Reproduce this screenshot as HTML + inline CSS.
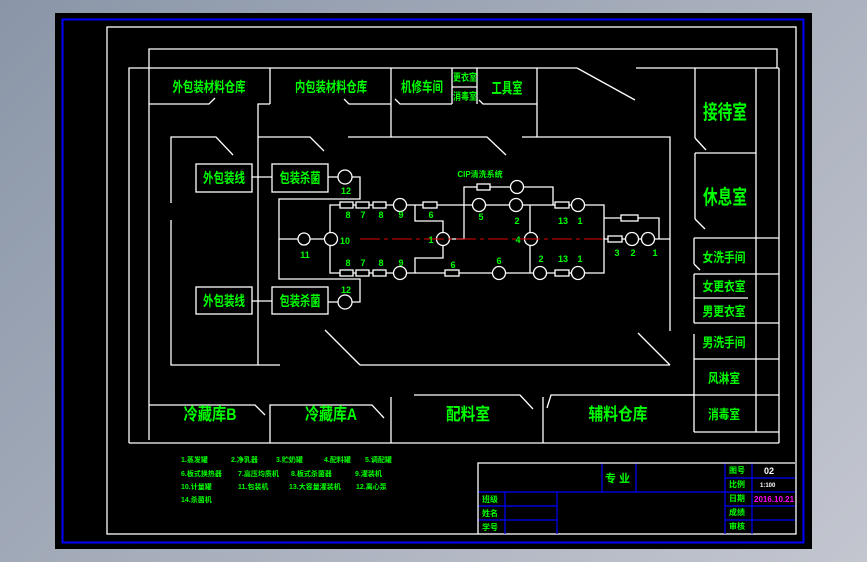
<!DOCTYPE html>
<html><head><meta charset="utf-8"><style>
html,body{margin:0;padding:0;width:867px;height:562px;overflow:hidden;background:linear-gradient(135deg,#8a96a8,#c3c6cf);}
svg{position:absolute;left:0;top:0}
text{font-family:"Liberation Sans","Noto Sans CJK SC",sans-serif;fill:#00ff00;font-weight:bold}
</style></head><body>
<svg width="867" height="562" viewBox="0 0 867 562">
<rect x="55" y="13" width="757" height="536" fill="#000"/>
<rect x="62.5" y="19.5" width="741" height="523" fill="none" stroke="#0000ff" stroke-width="2"/>
<g stroke="#fff" stroke-width="1.3" fill="none">
<rect x="107" y="27" width="689" height="507"/>
<polyline points="149,440 149,49 777,49 777,68"/>
<polyline points="129,443 129,68 577,68"/>
<line x1="577" y1="68" x2="635" y2="100"/>
<line x1="636" y1="68" x2="779" y2="68"/>
<line x1="779" y1="68" x2="779" y2="443"/>
<line x1="129" y1="443" x2="779" y2="443"/>
<line x1="270" y1="68" x2="270" y2="104"/><line x1="391" y1="68" x2="391" y2="137"/>
<line x1="452" y1="68" x2="452" y2="104"/><line x1="477" y1="68" x2="477" y2="104"/>
<line x1="537" y1="68" x2="537" y2="137"/><line x1="452" y1="87" x2="477" y2="87"/>
<polyline points="149,104 209,104 215,98"/>
<polyline points="344,99 349,104 391,104"/>
<polyline points="395,99 400,104 452,104"/>
<polyline points="479,100 483,104 537,104"/>
<polyline points="258,365 258,104 270,104"/>
<polyline points="171,203 171,137 216,137 233,155"/>
<polyline points="258,137 310,137 324,151"/>
<polyline points="348,137 487,137 506,155"/>
<polyline points="522,137 670,137 670,331"/>
<polyline points="171,220 171,365 280,365"/>
<line x1="325" y1="330" x2="360" y2="365"/>
<line x1="360" y1="365" x2="670" y2="365"/>
<line x1="638" y1="333" x2="670" y2="365"/>
<polyline points="149,405 255,405 265,415"/>
<polyline points="270,443 270,405 372,405 384,418"/>
<line x1="391" y1="397" x2="391" y2="443"/>
<polyline points="414,395 520,395 533,409"/>
<line x1="543" y1="397" x2="543" y2="443"/>
<polyline points="547,408 551,395 695,395"/>
<line x1="695" y1="68" x2="695" y2="138"/><line x1="695" y1="138" x2="706" y2="150"/>
<line x1="695" y1="153" x2="756" y2="153"/>
<line x1="695" y1="153" x2="695" y2="219"/><line x1="695" y1="219" x2="705" y2="229"/>
<line x1="756" y1="68" x2="756" y2="432"/>
<line x1="694" y1="238" x2="779" y2="238"/><line x1="694" y1="238" x2="694" y2="264"/><line x1="694" y1="264" x2="700" y2="270"/>
<line x1="694" y1="274" x2="779" y2="274"/><line x1="694" y1="274" x2="694" y2="323"/>
<line x1="694" y1="298" x2="748" y2="298"/>
<line x1="694" y1="323" x2="779" y2="323"/>
<line x1="694" y1="334" x2="694" y2="432"/>
<line x1="694" y1="359" x2="779" y2="359"/>
<line x1="600" y1="395" x2="779" y2="395"/>
<line x1="694" y1="432" x2="779" y2="432"/>
<rect x="196" y="164" width="56" height="28"/><rect x="272" y="164" width="56" height="28"/>
<rect x="196" y="287" width="56" height="27"/><rect x="272" y="287" width="56" height="27"/>
<line x1="252" y1="177" x2="272" y2="177"/><line x1="252" y1="301" x2="272" y2="301"/>
<polyline points="328,177 360,177 360,199 279,199 279,279 360,279 360,302 328,302"/>
<line x1="279" y1="239" x2="324" y2="239"/>
<polyline points="330,233 330,205 604,205 604,273 330,273 330,245"/>
<polyline points="415,205 415,221 443,221 443,258 415,258 415,273"/>
<polyline points="449,239 464,239 464,187 553,187 553,205"/>
<line x1="530" y1="205" x2="530" y2="273"/>
<line x1="604" y1="239" x2="670" y2="239"/>
<polyline points="604,218 659,218 659,239"/>
</g>
<g stroke="#fff" stroke-width="1.3" fill="#000">
<circle cx="345" cy="177" r="7"/><circle cx="345" cy="302" r="7"/>
<circle cx="304" cy="239" r="6"/><circle cx="331" cy="239" r="6.5"/>
<rect x="340" y="202" width="13" height="6"/><rect x="356" y="202" width="13" height="6"/><rect x="373" y="202" width="13" height="6"/>
<rect x="340" y="270" width="13" height="6"/><rect x="356" y="270" width="13" height="6"/><rect x="373" y="270" width="13" height="6"/>
<circle cx="400" cy="205" r="6.5"/><circle cx="400" cy="273" r="6.5"/>
<rect x="423" y="202" width="14" height="6"/><rect x="445" y="270" width="14" height="6"/>
<circle cx="443" cy="239" r="6.5"/>
<rect x="477" y="184" width="13" height="6"/><circle cx="517" cy="187" r="6.5"/>
<circle cx="479" cy="205" r="6.5"/><circle cx="516" cy="205" r="6.5"/>
<circle cx="499" cy="273" r="6.5"/><circle cx="540" cy="273" r="6.5"/>
<circle cx="531" cy="239" r="6.5"/>
<rect x="555" y="202" width="14" height="6"/><rect x="555" y="270" width="14" height="6"/>
<circle cx="578" cy="205" r="6.5"/><circle cx="578" cy="273" r="6.5"/>
<rect x="608" y="236" width="14" height="6"/><circle cx="632" cy="239" r="6.5"/><circle cx="648" cy="239" r="6.5"/>
<rect x="621" y="215" width="17" height="6"/>
</g>
<line x1="360" y1="239" x2="603" y2="239" stroke="#e00000" stroke-width="1" stroke-dasharray="20,4,4,4"/>
<g font-size="14" text-anchor="middle" lengthAdjust="spacingAndGlyphs">
<text x="209" y="92" textLength="73" lengthAdjust="spacingAndGlyphs">外包装材料仓库</text>
<text x="331" y="92" textLength="72" lengthAdjust="spacingAndGlyphs">内包装材料仓库</text>
<text x="422" y="92" textLength="42" lengthAdjust="spacingAndGlyphs">机修车间</text>
<text x="507" y="93" font-size="15" textLength="31" lengthAdjust="spacingAndGlyphs">工具室</text>
<text x="465" y="81" font-size="10" textLength="24" lengthAdjust="spacingAndGlyphs">更衣室</text>
<text x="465" y="100" font-size="10" textLength="24" lengthAdjust="spacingAndGlyphs">消毒室</text>
<text x="224" y="183" textLength="42" lengthAdjust="spacingAndGlyphs">外包装线</text>
<text x="300" y="183" textLength="41" lengthAdjust="spacingAndGlyphs">包装杀菌</text>
<text x="224" y="306" textLength="42" lengthAdjust="spacingAndGlyphs">外包装线</text>
<text x="300" y="306" textLength="41" lengthAdjust="spacingAndGlyphs">包装杀菌</text>
<text x="725" y="119" font-size="20" textLength="44" lengthAdjust="spacingAndGlyphs">接待室</text>
<text x="725" y="204" font-size="20" textLength="44" lengthAdjust="spacingAndGlyphs">休息室</text>
<text x="724" y="262" font-size="13" textLength="43" lengthAdjust="spacingAndGlyphs">女洗手间</text>
<text x="724" y="291" font-size="13" textLength="43" lengthAdjust="spacingAndGlyphs">女更衣室</text>
<text x="724" y="316" font-size="13" textLength="43" lengthAdjust="spacingAndGlyphs">男更衣室</text>
<text x="724" y="347" font-size="13" textLength="43" lengthAdjust="spacingAndGlyphs">男洗手间</text>
<text x="724" y="383" font-size="13" textLength="32" lengthAdjust="spacingAndGlyphs">风淋室</text>
<text x="724" y="419" font-size="13" textLength="32" lengthAdjust="spacingAndGlyphs">消毒室</text>
<text x="210" y="420" font-size="17" textLength="53" lengthAdjust="spacingAndGlyphs">冷藏库B</text>
<text x="331" y="420" font-size="17" textLength="52" lengthAdjust="spacingAndGlyphs">冷藏库A</text>
<text x="468" y="420" font-size="17" textLength="44" lengthAdjust="spacingAndGlyphs">配料室</text>
<text x="618" y="420" font-size="17" textLength="59" lengthAdjust="spacingAndGlyphs">辅料仓库</text>
</g>
<g font-size="9" text-anchor="middle" font-weight="normal">
<text x="346" y="194">12</text><text x="346" y="293">12</text>
<text x="480" y="177" font-size="8">CIP清洗系统</text>
<text x="348" y="218">8</text><text x="363" y="218">7</text><text x="381" y="218">8</text><text x="401" y="218">9</text><text x="431" y="218">6</text>
<text x="481" y="220">5</text><text x="517" y="224">2</text><text x="563" y="224">13</text><text x="580" y="224">1</text>
<text x="345" y="244">10</text><text x="305" y="258">11</text><text x="431" y="243">1</text><text x="518" y="243">4</text>
<text x="348" y="266">8</text><text x="363" y="266">7</text><text x="381" y="266">8</text><text x="401" y="266">9</text>
<text x="453" y="268">6</text><text x="499" y="264">6</text><text x="541" y="262">2</text><text x="563" y="262">13</text><text x="580" y="262">1</text>
<text x="617" y="256">3</text><text x="633" y="256">2</text><text x="655" y="256">1</text>
</g>
<g font-size="7">
<text x="181" y="462">1.蒸发罐</text><text x="231" y="462">2.净乳器</text><text x="276" y="462">3.贮奶罐</text><text x="324" y="462">4.配料罐</text><text x="365" y="462">5.调配罐</text>
<text x="181" y="476">6.板式换热器</text><text x="238" y="476">7.高压均质机</text><text x="291" y="476">8.板式杀菌器</text><text x="355" y="476">9.灌装机</text>
<text x="181" y="489">10.计量罐</text><text x="238" y="489">11.包装机</text><text x="289" y="489">13.大容量灌装机</text><text x="356" y="489">12.离心泵</text>
<text x="181" y="502">14.杀菌机</text>
</g>
<g stroke="#0000ff" stroke-width="1.2" fill="none">
<line x1="602" y1="463" x2="602" y2="492"/><line x1="636" y1="463" x2="636" y2="492"/>
<line x1="478" y1="492" x2="725" y2="492"/>
<line x1="725" y1="463" x2="725" y2="534"/><line x1="752" y1="463" x2="752" y2="534"/>
<line x1="725" y1="478" x2="795" y2="478"/><line x1="725" y1="492" x2="795" y2="492"/>
<line x1="478" y1="506" x2="557" y2="506"/><line x1="725" y1="506" x2="795" y2="506"/>
<line x1="478" y1="520" x2="557" y2="520"/><line x1="725" y1="520" x2="795" y2="520"/>
<line x1="505" y1="492" x2="505" y2="534"/><line x1="557" y1="492" x2="557" y2="534"/>
</g>
<polyline points="478,534 478,463 795,463" stroke="#fff" stroke-width="1.3" fill="none"/>
<g font-size="8" font-weight="normal" style="fill:#555">
<text x="482" y="502">班级</text><text x="482" y="516">姓名</text><text x="482" y="530">学号</text>
<text x="729" y="473">图号</text><text x="729" y="487">比例</text><text x="729" y="501">日期</text>
<text x="729" y="515">成绩</text><text x="729" y="529">审核</text>
<text x="605" y="482" font-size="11">专 业</text>
</g>
<text x="764" y="474" font-size="9" font-weight="normal" style="fill:#fff">02</text>
<text x="760" y="487" font-size="6" style="fill:#fff">1:100</text>
<text x="754" y="502" font-size="8" style="fill:#ff00ff">2016.10.21</text>
</svg>
</body></html>
